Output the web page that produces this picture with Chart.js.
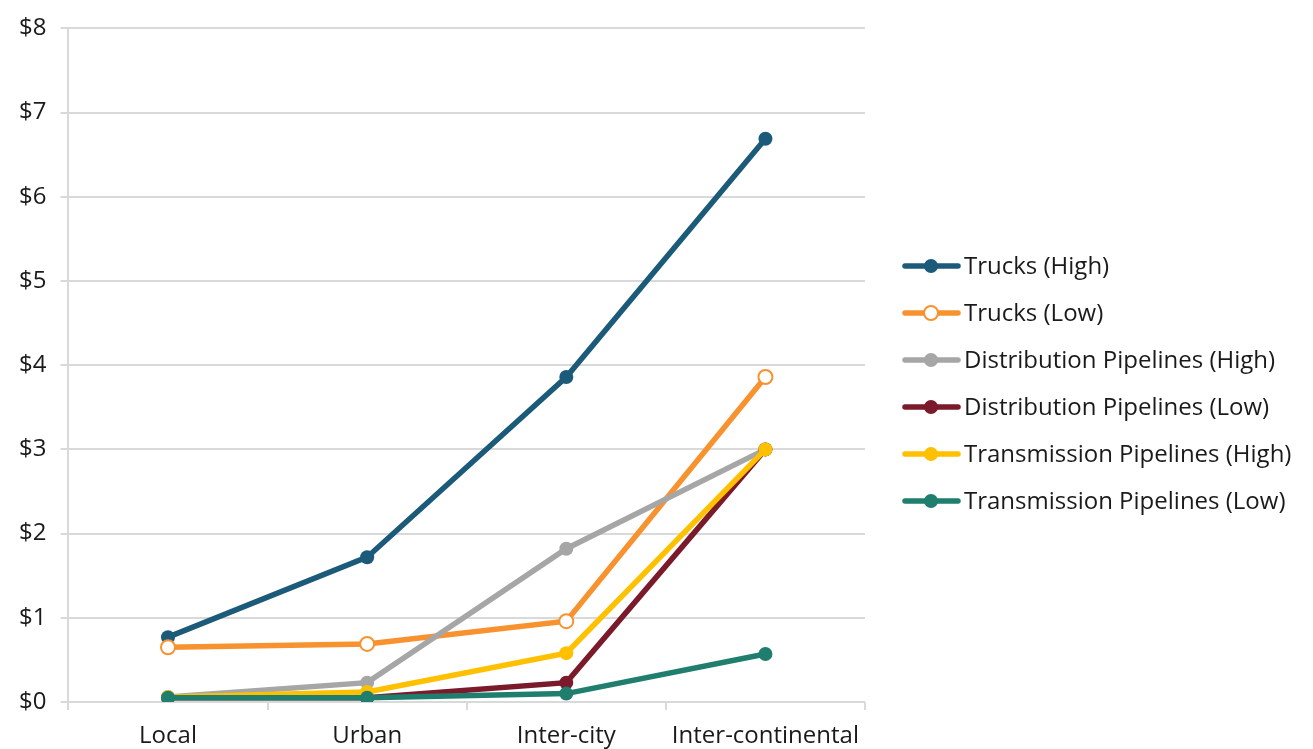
<!DOCTYPE html>
<html>
<head>
<meta charset="utf-8">
<script src="https://cdn.jsdelivr.net/npm/chart.js@4.4.1/dist/chart.umd.min.js"></script>
<style>
  html, body { margin: 0; padding: 0; background: #ffffff; }
  #wrap { width: 1313px; height: 749px; }
</style>
</head>
<body>
<div id="wrap"><canvas id="costChart" width="1313" height="749"></canvas></div>
<script>
// categories and series values
const categories = ['Local', 'Urban', 'Inter-city', 'Inter-continental'];
const seriesNames = [
    'Trucks (High)',
    'Trucks (Low)',
    'Distribution Pipelines (High)',
    'Distribution Pipelines (Low)',
    'Transmission Pipelines (High)',
    'Transmission Pipelines (Low)'
];
const trucksHigh = [0.77, 1.72, 3.86, 6.69];
const trucksLow = [0.65, 0.69, 0.96, 3.86];
const distHigh = [0.06, 0.23, 1.82, 3.0];
const distLow = [0.05, 0.05, 0.23, 3.0];
const transHigh = [0.06, 0.12, 0.58, 3.0];
const transLow = [0.05, 0.05, 0.1, 0.57];
const yTicks = [0, 1, 2, 3, 4, 5, 6, 7, 8];

const seriesValues = [trucksHigh, trucksLow, distHigh, distLow, transHigh, transLow];
const seriesColors = ['#1c5a7a', '#f7922f', '#a6a6a6', '#7a1a2a', '#ffc000', '#1f7e6d'];
const FONT = "'Open Sans', 'Liberation Sans', sans-serif";

const datasets = seriesNames.map((name, i) => ({
    label: name,
    data: seriesValues[i],
    borderColor: seriesColors[i],
    backgroundColor: seriesColors[i],
    pointBackgroundColor: i === 1 ? '#ffffff' : seriesColors[i],
    pointBorderColor: seriesColors[i],
    pointBorderWidth: i === 1 ? 2 : 0,
    pointRadius: 7,
    borderWidth: 5.5,
    tension: 0,
    order: seriesNames.length - i   // later series drawn on top, like the original
}));

// legend drawn on the canvas: line with marker, then the label
const sideLegend = {
    id: 'sideLegend',
    afterDraw(chart) {
        const ctx = chart.ctx;
        const x0 = 905;
        let y = 266;
        ctx.save();
        ctx.font = '24px ' + FONT;
        ctx.textBaseline = 'middle';
        chart.data.datasets.forEach(ds => {
            ctx.strokeStyle = ds.borderColor;
            ctx.lineWidth = 5.5;
            ctx.lineCap = 'round';
            ctx.beginPath();
            ctx.moveTo(x0, y);
            ctx.lineTo(x0 + 53, y);
            ctx.stroke();
            ctx.beginPath();
            ctx.arc(x0 + 26, y, 7, 0, Math.PI * 2);
            ctx.fillStyle = ds.pointBackgroundColor;
            ctx.fill();
            if (ds.pointBorderWidth) {
                ctx.lineWidth = ds.pointBorderWidth;
                ctx.stroke();
            }
            ctx.fillStyle = '#1a1a1a';
            ctx.fillText(ds.label, x0 + 59, y + 1);
            y += 47;
        });
        ctx.restore();
    }
};

const ctx = document.getElementById('costChart').getContext('2d');
const costChart = new Chart(ctx, {
    type: 'line',
    data: { labels: categories, datasets: datasets },
    plugins: [sideLegend],
    options: {
        responsive: false,
        animation: false,
        layout: { padding: { left: 5, right: 448, top: 18, bottom: 0 } },
        plugins: {
            legend: { display: false },
            tooltip: { enabled: false }
        },
        scales: {
            x: {
                offset: true,
                afterFit: scale => { scale.height = 47; },
                grid: {
                    offset: true,
                    drawOnChartArea: false,
                    drawTicks: true,
                    tickLength: 8,
                    color: '#d9d9d9',
                    lineWidth: 2
                },
                border: { display: false },
                ticks: {
                    color: '#1a1a1a',
                    font: { family: FONT, size: 24 },
                    padding: 12,
                    maxRotation: 0
                }
            },
            y: {
                min: 0,
                max: 8,
                afterBuildTicks: axis => {
                    axis.ticks = yTicks.map(v => ({ value: v }));
                },
                grid: {
                    color: '#d9d9d9',
                    lineWidth: 2,
                    tickLength: 8
                },
                border: { display: true, color: '#d9d9d9', width: 2 },
                ticks: {
                    color: '#1a1a1a',
                    font: { family: FONT, size: 24 },
                    padding: 14,
                    callback: v => '$' + v
                }
            }
        }
    }
});
</script>
</body>
</html>
